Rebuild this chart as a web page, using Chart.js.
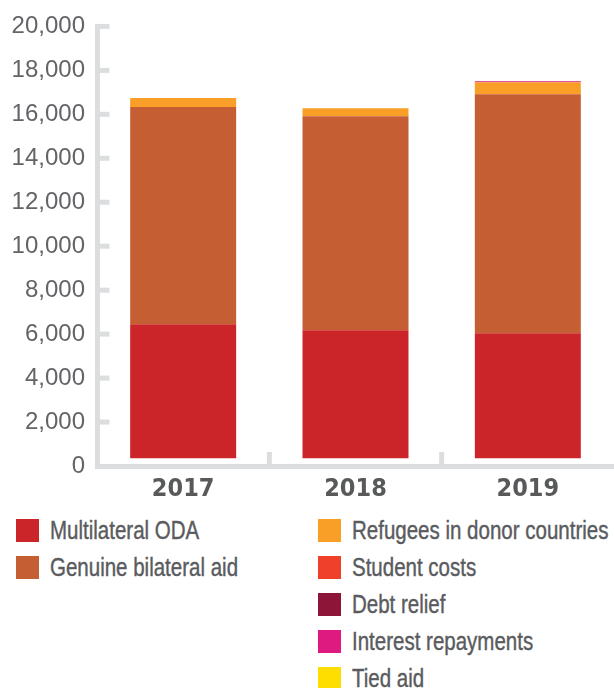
<!DOCTYPE html>
<html>
<head>
<meta charset="utf-8">
<script src="https://cdn.jsdelivr.net/npm/chart.js@4/dist/chart.umd.min.js"></script>
<style>
  body { margin: 0; background: #fff; }
  #wrap { position: relative; width: 614px; height: 688px; overflow: hidden; }
  #chart { position: absolute; left: 0; top: 0; }
  .item { position: absolute; height: 23px; }
  .item .box { position: absolute; left: 0; top: 0; width: 23px; height: 23px; }
  .item .txt { position: absolute; left: 34px; top: -4px; line-height: 30px;
               font-family: "Liberation Sans", Arial, sans-serif; font-size: 25px;
               color: #5a5b5e; white-space: nowrap;
               transform: scaleX(0.82); transform-origin: 0 50%;
               -webkit-text-stroke: 0.4px #5a5b5e; }
</style>
</head>
<body>
<div id="wrap">
  <canvas id="chart" width="614" height="505"></canvas>
  <div id="legend"></div>
</div>
<script>
const years = ["2017", "2018", "2019"];
const seriesNames = ["Multilateral ODA", "Genuine bilateral aid", "Refugees in donor countries",
    "Student costs", "Debt relief", "Interest repayments", "Tied aid"];
const seriesColors = ["#cc2529", "#c55e33", "#f99f27", "#ef4129", "#8c1538", "#de1a80", "#fedd00"];

const multilateral = [6100, 5830, 5695];
const bilateral = [9880, 9730, 10865];
const refugees = [410, 365, 545];
const students = [0, 0, 0];
const debtRelief = [0, 0, 0];
const interest = [0, 0, 45];
const tiedAid = [0, 0, 0];
const yTicks = [0, 2000, 4000, 6000, 8000, 10000, 12000, 14000, 16000, 18000, 20000];

const seriesValues = [multilateral, bilateral, refugees, students, debtRelief, interest, tiedAid];
const axisGrey = "#dcdddf";

// short tick stubs pointing into the plot, like the original
const stubs = {
    id: "stubs",
    afterDraw(chart) {
        const { ctx, chartArea, scales } = chart;
        ctx.save();
        ctx.strokeStyle = axisGrey;
        ctx.lineWidth = 5;
        yTicks.forEach(v => {
            if (v === 0) return;
            const py = scales.y.getPixelForValue(v);
            ctx.beginPath();
            ctx.moveTo(chartArea.left, py);
            ctx.lineTo(chartArea.left + 12.5, py);
            ctx.stroke();
        });
        for (let i = 0; i < years.length - 1; i++) {
            const px = (scales.x.getPixelForValue(i) + scales.x.getPixelForValue(i + 1)) / 2;
            ctx.beginPath();
            ctx.moveTo(px, chartArea.bottom);
            ctx.lineTo(px, chartArea.bottom - 14);
            ctx.stroke();
        }
        ctx.restore();
    }
};

new Chart(document.getElementById("chart"), {
    type: "bar",
    data: {
        labels: years,
        datasets: seriesNames.map((name, i) => ({
            label: name,
            data: seriesValues[i],
            backgroundColor: seriesColors[i],
            borderWidth: 0,
            yAxisID: "yb",
            barPercentage: 1,
            categoryPercentage: 0.615
        }))
    },
    options: {
        responsive: false,
        animation: false,
        layout: { padding: { top: 26, left: 0, right: 0, bottom: 0 } },
        plugins: { legend: { display: false }, tooltip: { enabled: false } },
        scales: {
            x: {
                stacked: true,
                grid: { display: false, drawTicks: false },
                border: { color: axisGrey, width: 5 },
                ticks: {
                    color: "#58595b",
                    padding: 8,
                    font: { family: "'DejaVu Sans Condensed', sans-serif", size: 25, weight: "bold" }
                },
                afterFit: s => { s.height = 39; }
            },
            y: {
                min: 0,
                max: 20000,
                afterBuildTicks: s => { s.ticks = yTicks.map(v => ({ value: v })); },
                grid: { display: false, drawTicks: false },
                border: { color: axisGrey, width: 5 },
                ticks: {
                    color: "#636467",
                    padding: 12,
                    font: { family: "'Liberation Sans', Arial, sans-serif", size: 24 },
                    callback: v => v.toLocaleString("en-US")
                },
                afterFit: s => { s.width = 97; }
            },
            yb: {
                display: false,
                stacked: true,
                min: -350,
                max: 19650
            }
        }
    },
    plugins: [stubs]
});

// two-column legend, left column holds the first two series
const legend = document.getElementById("legend");
seriesNames.forEach((name, i) => {
    const left = i < 2;
    const row = left ? i : i - 2;
    const el = document.createElement("div");
    el.className = "item";
    el.style.left = (left ? 16 : 318) + "px";
    el.style.top = (519 + row * 37) + "px";
    el.innerHTML = '<span class="box" style="background:' + seriesColors[i] + '"></span>' +
        '<span class="txt">' + name + '</span>';
    legend.appendChild(el);
});
</script>
</body>
</html>
